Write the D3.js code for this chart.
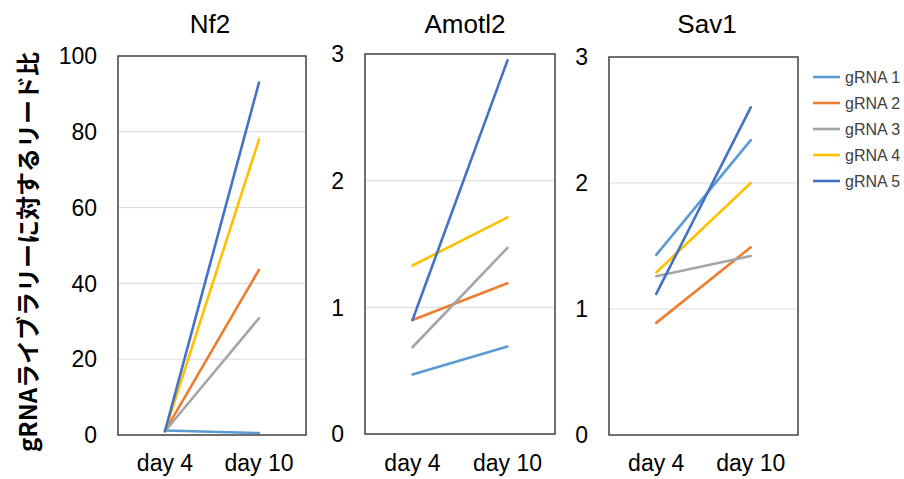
<!DOCTYPE html>
<meta charset="utf-8">
<script src="https://d3js.org/d3.v7.min.js"></script>
<style>
  body { margin: 0; background: #fff; }
  text { font-family: "Liberation Sans", Arial, sans-serif; }
</style>
<div id="chart"></div>
<script>

// data
var days = ["day 4", "day 10"];
var guides = ["gRNA 1", "gRNA 2", "gRNA 3", "gRNA 4", "gRNA 5"];
var colors = ["#5B9BD5", "#ED7D31", "#A5A5A5", "#FFC000", "#4472C4"];

var nf2Day4 = [1.2, 1.0, 1.0, 1.0, 1.0];
var nf2Day10 = [0.5, 43.6, 30.8, 78, 93];
var amotl2Day4 = [0.47, 0.90, 0.685, 1.33, 0.90];
var amotl2Day10 = [0.69, 1.19, 1.47, 1.71, 2.95];
var sav1Day4 = [1.43, 0.89, 1.26, 1.29, 1.12];
var sav1Day10 = [2.34, 1.49, 1.42, 2.00, 2.60];

var nf2Ticks = [0, 20, 40, 60, 80, 100];
var smallTicks = [0, 1, 2, 3];

var panels = [
  {title: "Nf2", d4: nf2Day4, d10: nf2Day10, ticks: nf2Ticks, left: 118, right: 306, top: 56, bottom: 435, titleX: 210},
  {title: "Amotl2", d4: amotl2Day4, d10: amotl2Day10, ticks: smallTicks, left: 365, right: 555, top: 54, bottom: 434, titleX: 465},
  {title: "Sav1", d4: sav1Day4, d10: sav1Day10, ticks: smallTicks, left: 609, right: 798, top: 57, bottom: 435, titleX: 707}
];

var svg = d3.select("#chart")
  .append("svg")
    .attr("width", 904)
    .attr("height", 479);

panels.forEach(function(p) {
  var x = d3.scalePoint()
    .domain(days)
    .range([p.left, p.right])
    .padding(0.5);
  var y = d3.scaleLinear()
    .domain([0, d3.max(p.ticks)])
    .range([p.bottom, p.top]);

  var g = svg.append("g");

  // gridlines
  g.selectAll(".grid")
    .data(p.ticks.slice(1, -1))
    .enter()
    .append("line")
      .attr("x1", p.left)
      .attr("x2", p.right)
      .attr("y1", function(d) { return y(d); })
      .attr("y2", function(d) { return y(d); })
      .attr("stroke", "#d9d9d9")
      .attr("stroke-width", 1);

  // y tick labels
  g.selectAll(".ytick")
    .data(p.ticks)
    .enter()
    .append("text")
      .attr("x", p.left - 21)
      .attr("y", function(d) { return y(d); })
      .attr("dy", "0.36em")
      .attr("text-anchor", "end")
      .attr("font-size", 23)
      .attr("fill", "#000")
      .text(function(d) { return d; });

  // x labels
  g.selectAll(".xtick")
    .data(days)
    .enter()
    .append("text")
      .attr("x", function(d) { return x(d); })
      .attr("y", 471)
      .attr("text-anchor", "middle")
      .attr("font-size", 23)
      .attr("fill", "#000")
      .text(function(d) { return d; });

  // lines
  g.selectAll(".series")
    .data(guides)
    .enter()
    .append("line")
      .attr("x1", x(days[0]))
      .attr("x2", x(days[1]))
      .attr("y1", function(d, i) { return y(p.d4[i]); })
      .attr("y2", function(d, i) { return y(p.d10[i]); })
      .attr("stroke", function(d, i) { return colors[i]; })
      .attr("stroke-width", 2.6)
      .attr("stroke-linecap", "round");

  // frame
  g.append("rect")
    .attr("x", p.left)
    .attr("y", p.top)
    .attr("width", p.right - p.left)
    .attr("height", p.bottom - p.top)
    .attr("fill", "none")
    .attr("stroke", "#404040")
    .attr("stroke-width", 1.5);

  // title
  g.append("text")
    .attr("x", p.titleX)
    .attr("y", 33)
    .attr("text-anchor", "middle")
    .attr("font-size", 26)
    .attr("fill", "#000")
    .text(p.title);
});

// y axis title
svg.append("text")
  .attr("transform", "translate(37,252) rotate(-90)")
  .attr("text-anchor", "middle")
  .attr("font-size", 24)
  .attr("font-weight", "bold")
  .style("font-family", "'Noto Sans CJK JP', sans-serif")
  .attr("fill", "#000")
  .text("gRNAライブラリーに対するリード比");

// legend
var legend = svg.selectAll(".legend")
  .data(guides)
  .enter()
  .append("g")
    .attr("transform", function(d, i) { return "translate(813," + (77 + i * 26) + ")"; });
legend.append("line")
  .attr("x1", 0)
  .attr("x2", 27)
  .attr("stroke", function(d, i) { return colors[i]; })
  .attr("stroke-width", 2.6);
legend.append("text")
  .attr("x", 32)
  .attr("dy", "0.36em")
  .attr("font-size", 16)
  .attr("fill", "#404040")
  .text(function(d) { return d; });

</script>
